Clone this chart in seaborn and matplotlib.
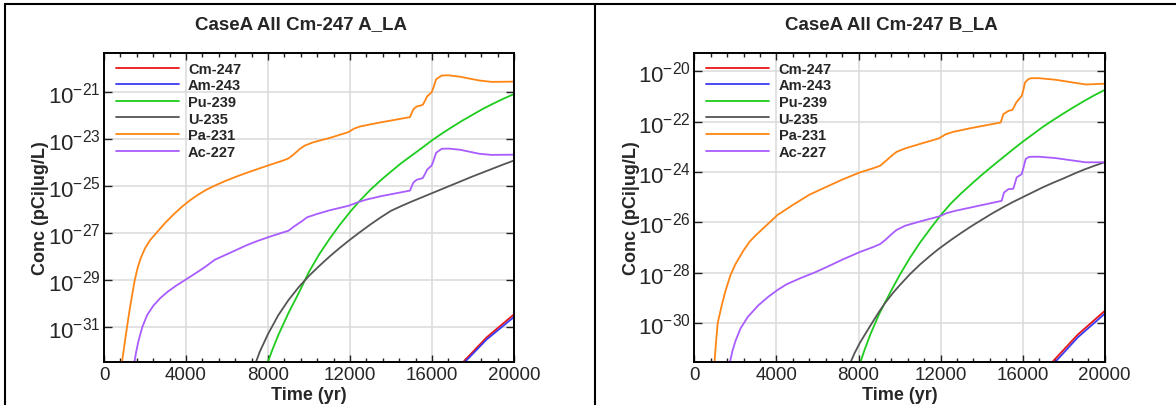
import numpy as np
import pandas as pd
import matplotlib
matplotlib.use("Agg")
import matplotlib.pyplot as plt
import seaborn as sns
from matplotlib.ticker import MultipleLocator, NullLocator
from matplotlib.lines import Line2D

# ---------------- data (exponents of concentration, pCi|ug/L) ----------------
nuclides = ["Cm-247", "Am-243", "Pu-239", "U-235", "Pa-231", "Ac-227"]
colors = ["#e81616", "#3a3af2", "#1dcc1d", "#555555", "#ff8514", "#a95cff"]
titles = ["CaseA All Cm-247 A_LA", "CaseA All Cm-247 B_LA"]
x_ticks = [0, 4000, 8000, 12000, 16000, 20000]
ylim_a = (-32.49, -19.33)
ylim_b = (-31.54, -19.27)
yexp_a = [-31, -29, -27, -25, -23, -21]
yexp_b = [-30, -28, -26, -24, -22, -20]

# Panel A
a_t_cm = [17400, 18667, 20000]
a_cm = [-32.6, -31.44, -30.46]
a_t_am = [17480, 18667, 20000]
a_am = [-32.6, -31.53, -30.57]
a_t_pu = [7950, 8200, 8500, 9000, 9500, 10000, 10500, 11000, 11500, 12000, 12500, 13000, 13500, 14000,
          14500, 15000, 15500, 16000, 16500, 17000, 17500, 18000, 18500, 19000, 19500, 20000]
a_pu = [-32.6, -32.0, -31.35, -30.4, -29.55, -28.65, -27.9, -27.25, -26.65, -26.1, -25.6, -25.15, -24.75,
        -24.38, -24.02, -23.7, -23.38, -23.05, -22.75, -22.47, -22.2, -21.95, -21.7, -21.48, -21.27, -21.08]
a_t_u = [7366, 7600, 8000, 8500, 9000, 9500, 10000, 10500, 11000, 11500, 12000, 12500, 13000, 13500,
         14000, 14500, 15000, 15500, 16000, 16500, 17000, 17500, 18000, 18500, 19000, 19500, 20000]
a_u = [-32.6, -32.05, -31.3, -30.5, -29.85, -29.3, -28.82, -28.4, -28.0, -27.63, -27.28, -26.95, -26.63,
       -26.33, -26.05, -25.85, -25.66, -25.48, -25.3, -25.12, -24.94, -24.76, -24.58, -24.41, -24.24,
       -24.07, -23.91]
a_t_pa = [862, 950, 1030, 1106, 1200, 1300, 1400, 1500, 1650, 1800, 2000, 2250, 2600, 3000, 3400, 3800,
          4200, 4600, 5000, 5500, 6000, 6500, 7000, 7500, 8000, 8700, 9000, 9250, 9561, 9800, 10211,
          11000, 11918, 12200, 12488, 13400, 14927, 15020, 15100, 15252, 15545, 15650, 15760, 15984,
          16080, 16200, 16472, 16800, 17366, 18300, 18900, 20000]
a_pa = [-32.6, -32.05, -31.55, -31.1, -30.55, -30.0, -29.5, -29.0, -28.45, -28.05, -27.65, -27.3, -26.95,
        -26.55, -26.2, -25.88, -25.6, -25.36, -25.15, -24.94, -24.75, -24.58, -24.42, -24.27, -24.12,
        -23.92, -23.82, -23.65, -23.41, -23.27, -23.13, -22.95, -22.70, -22.55, -22.46, -22.30, -22.06,
        -21.86, -21.72, -21.61, -21.54, -21.38, -21.18, -21.0, -20.78, -20.45, -20.29, -20.28, -20.34,
        -20.50, -20.56, -20.55]
a_t_ac = [1463, 1560, 1680, 1870, 2100, 2400, 2732, 3100, 3500, 3950, 4400, 4900, 5415, 6000, 6500,
          7000, 7500, 8098, 8700, 9000, 9300, 9643, 9900, 10375, 11000, 11918, 12400, 12813, 13500,
          14927, 15020, 15100, 15252, 15545, 15650, 15760, 15984, 16080, 16200, 16472, 16800, 17366,
          18300, 18900, 20000]
a_ac = [-32.6, -32.1, -31.6, -31.0, -30.5, -30.1, -29.78, -29.5, -29.25, -29.0, -28.75, -28.46, -28.13,
        -27.9, -27.7, -27.5, -27.33, -27.15, -26.98, -26.9, -26.7, -26.5, -26.33, -26.19, -26.03, -25.84,
        -25.68, -25.57, -25.43, -25.19, -24.99, -24.84, -24.73, -24.66, -24.5, -24.3, -24.12, -23.9,
        -23.58, -23.41, -23.40, -23.45, -23.62, -23.67, -23.66]

# Panel B
b_t_cm = [17330, 18700, 20000]
b_cm = [-31.65, -30.45, -29.52]
b_t_am = [17470, 18700, 20000]
b_am = [-31.65, -30.56, -29.63]
b_t_pu = [8050, 8300, 8600, 9000, 9293, 9600, 10000, 10512, 11000, 11500, 12000, 12500, 13000, 13500,
          14000, 14500, 15000, 15500, 16000, 16500, 17000, 17500, 18000, 18500, 19000, 19500, 20000]
b_pu = [-31.65, -31.05, -30.4, -29.65, -29.18, -28.7, -28.1, -27.4, -26.8, -26.25, -25.72, -25.25, -24.85,
        -24.48, -24.12, -23.78, -23.45, -23.12, -22.8, -22.5, -22.2, -21.93, -21.67, -21.42, -21.18,
        -20.95, -20.74]
b_t_u = [7560, 7800, 8073, 8500, 9000, 9293, 9700, 10000, 10512, 11000, 11500, 11893, 12500, 13000, 13500,
         14000, 14500, 15000, 15500, 16000, 16500, 17000, 17500, 18000, 18500, 19000, 19500, 20000]
b_u = [-31.65, -31.2, -30.77, -30.2, -29.55, -29.2, -28.78, -28.5, -28.05, -27.67, -27.32, -27.06, -26.7,
       -26.42, -26.15, -25.9, -25.65, -25.42, -25.2, -25.0, -24.8, -24.6, -24.42, -24.25, -24.07, -23.9,
       -23.75, -23.61]
b_t_pa = [967, 1050, 1131, 1325, 1500, 1750, 2000, 2400, 2700, 3000, 3500, 4050, 4902, 5600, 6366, 7200,
          8073, 8700, 9049, 9300, 9618, 9850, 10268, 11000, 11927, 12250, 12625, 13500, 14936, 15010,
          15064, 15308, 15503, 15580, 15700, 15961, 16040, 16122, 16300, 16448, 16800, 17585, 19080, 20000]
b_pa = [-31.65, -30.75, -30.0, -29.3, -28.75, -28.1, -27.65, -27.1, -26.75, -26.5, -26.12, -25.7, -25.25,
        -24.9, -24.61, -24.3, -24.01, -23.85, -23.75, -23.58, -23.35, -23.2, -23.06, -22.88, -22.66,
        -22.5, -22.40, -22.25, -22.03, -21.85, -21.70, -21.57, -21.53, -21.42, -21.23, -20.97, -20.75,
        -20.44, -20.3, -20.27, -20.27, -20.33, -20.52, -20.49]
b_t_ac = [1700, 1850, 2000, 2250, 2600, 3100, 3600, 4050, 4500, 5200, 5878, 6500, 7200, 8073, 8700, 9049,
          9300, 9618, 9850, 10268, 11000, 11927, 12300, 12707, 13500, 14985, 15050, 15097, 15308, 15552,
          15630, 15715, 15961, 16040, 16155, 16300, 16448, 16800, 17585, 19080, 20000]
b_ac = [-31.65, -31.1, -30.7, -30.2, -29.75, -29.3, -28.95, -28.68, -28.45, -28.2, -27.98, -27.75, -27.48,
        -27.17, -26.98, -26.86, -26.7, -26.46, -26.3, -26.13, -25.96, -25.76, -25.63, -25.54, -25.4,
        -25.14, -24.95, -24.81, -24.68, -24.66, -24.45, -24.21, -24.08, -23.85, -23.48, -23.4, -23.39,
        -23.39, -23.44, -23.61, -23.61]

panel_a = [(a_t_cm, a_cm), (a_t_am, a_am), (a_t_pu, a_pu), (a_t_u, a_u), (a_t_pa, a_pa), (a_t_ac, a_ac)]
panel_b = [(b_t_cm, b_cm), (b_t_am, b_am), (b_t_pu, b_pu), (b_t_u, b_u), (b_t_pa, b_pa), (b_t_ac, b_ac)]


def to_frame(panel):
    rows = []
    for name, (ts, es) in zip(nuclides, panel):
        for t, e in zip(ts, es):
            rows.append({"Time": t, "Conc": 10.0 ** e, "Nuclide": name})
    return pd.DataFrame(rows)


# ---------------- style ----------------
sns.set_style("ticks")
plt.rcParams["font.family"] = ["Liberation Sans", "DejaVu Sans"]
plt.rcParams["mathtext.fontset"] = "custom"
plt.rcParams["mathtext.rm"] = "Liberation Sans"
plt.rcParams["mathtext.it"] = "Liberation Sans:italic"
plt.rcParams["mathtext.bf"] = "Liberation Sans:bold"
plt.rcParams["mathtext.default"] = "regular"

W, H = 1176, 406
fig = plt.figure(figsize=(W / 100, H / 100), dpi=100)

panels = [panel_a, panel_b]
ylims = [ylim_a, ylim_b]
yexps = [yexp_a, yexp_b]
ax_left_px = [104, 694.5]
title_x_px = [301, 891]

for i in range(2):
    ax = fig.add_axes([ax_left_px[i] / W, 43 / H, 410 / W, 309 / H])
    df = to_frame(panels[i])
    sns.lineplot(data=df, x="Time", y="Conc", hue="Nuclide", hue_order=nuclides,
                 palette=colors, estimator=None, sort=False, linewidth=1.3, ax=ax)
    ax.set_yscale("log")
    ax.set_xlim(0, 20000)
    ax.set_ylim(10.0 ** ylims[i][0], 10.0 ** ylims[i][1])
    ax.set_xticks(x_ticks)
    ax.set_xticklabels([str(v) for v in x_ticks])
    ax.xaxis.set_minor_locator(MultipleLocator(800))
    ax.set_yticks([10.0 ** e for e in yexps[i]])
    ax.set_yticklabels([r"$10^{%d}$" % e for e in yexps[i]])
    ax.yaxis.set_minor_locator(NullLocator())
    ax.tick_params(axis="both", which="both", direction="in", top=True, right=True, color="#222222")
    ax.tick_params(axis="x", which="major", length=5, width=1.0, labelsize=13.5, pad=3)
    ax.tick_params(axis="x", which="minor", length=3.2, width=1.0)
    ax.tick_params(axis="y", which="major", length=5.5, width=1.0, labelsize=16, pad=2.5)
    ax.grid(True, which="major", color="#dadada", lw=1.1)
    ax.set_axisbelow(True)
    for s in ax.spines.values():
        s.set_linewidth(1.4)
        s.set_color("black")
    ax.set_xlabel("Time (yr)", fontsize=13, fontweight="bold")
    ax.set_ylabel("Conc (pCi|ug/L)", fontsize=13, fontweight="bold")
    ax.xaxis.set_label_coords(0.5, -0.078)
    ax.yaxis.set_label_coords(-0.133, 0.5)
    handles, labels = ax.get_legend_handles_labels()
    leg = ax.legend(handles, labels, loc="upper left", bbox_to_anchor=(0.029, 0.972),
                    frameon=False, prop={"weight": "bold", "size": 10.5}, handlelength=4.3,
                    handletextpad=0.65, labelspacing=0.18, borderaxespad=0, borderpad=0)
    for ln in leg.get_lines():
        ln.set_linewidth(1.3)
    fig.text(title_x_px[i] / W, 1 - 25 / H, titles[i], ha="center", va="center",
             fontsize=13.5, fontweight="bold")

# panel frames
for (x0, y0, x1, y1) in [(4.5, 5, W, 5), (4.5, 5, 4.5, H), (594.5, 5, 594.5, H)]:
    fig.add_artist(Line2D([x0 / W, x1 / W], [1 - y0 / H, 1 - y1 / H], transform=fig.transFigure,
                          color="black", lw=1.5))

fig.savefig("out.png", dpi=100)
